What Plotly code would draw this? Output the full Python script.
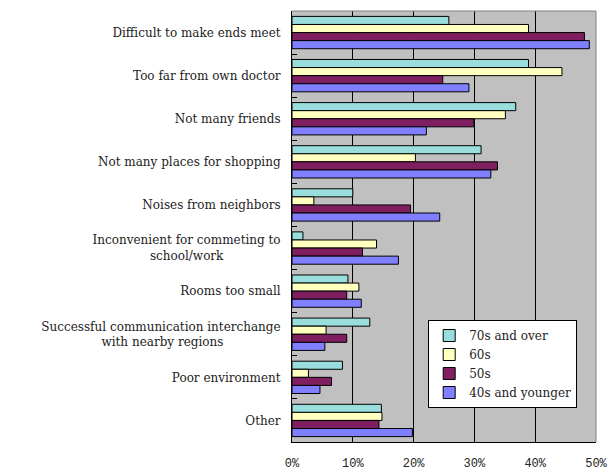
import plotly.graph_objects as go

NB = "\u00a0"
categories = [
    "Difficult to make ends meet",
    "Too far from own doctor",
    "Not many friends",
    "Not many places for shopping",
    "Noises from neighbors",
    "Inconvenient for commeting to<br>school/work" + NB * 15,
    "Rooms too small",
    "Successful communication interchange<br>with nearby regions" + NB * 15,
    "Poor environment",
    "Other",
]

series_names = ["70s and over", "60s", "50s", "40s and younger"]
s70 = [25.8, 38.9, 36.8, 31.1, 10.0, 1.8, 9.2, 12.8, 8.3, 14.7]
s60 = [38.9, 44.4, 35.1, 20.3, 3.6, 13.9, 11.0, 5.6, 2.7, 14.8]
s50 = [48.1, 24.8, 29.9, 33.8, 19.5, 11.6, 9.0, 9.0, 6.5, 14.3]
s40 = [48.9, 29.1, 22.1, 32.7, 24.3, 17.5, 11.4, 5.4, 4.6, 19.8]
series_values = [s70, s60, s50, s40]
colors = ["#99DDDD", "#FFFFC0", "#7F1F5F", "#7F7FFF"]

x_ticks = [0, 10, 20, 30, 40, 50]
x_ticklabels = ["0%", "10%", "20%", "30%", "40%", "50%"]

FONT = "DejaVu Serif"

fig = go.Figure()
for name, vals, col in zip(series_names, series_values, colors):
    fig.add_trace(go.Bar(
        y=categories, x=vals, name=name, orientation="h",
        marker=dict(color=col, line=dict(color="#000000", width=1)),
    ))

fig.update_layout(
    width=614, height=470,
    margin=dict(l=292, r=18, t=11, b=28),
    paper_bgcolor="white",
    plot_bgcolor="#C0C0C0",
    barmode="group",
    bargap=0.25,
    bargroupgap=0,
    font=dict(family=FONT, size=12, color="#222222"),
    showlegend=True,
    legend=dict(
        x=0.448, y=0.283, xanchor="left", yanchor="top",
        bgcolor="white", bordercolor="#000000", borderwidth=1,
        font=dict(family=FONT, size=12, color="#222222"),
        traceorder="normal",
        itemwidth=30,
        tracegroupgap=0,
    ),
    xaxis=dict(
        range=[0, 50], tickvals=x_ticks, ticktext=x_ticklabels,
        showgrid=True, gridcolor="#000000", gridwidth=1,
        zeroline=False,
        showline=True, linecolor="#000000", linewidth=1, mirror=False,
        ticks="outside", ticklen=10, tickcolor="rgba(0,0,0,0)",
        tickfont=dict(family="Liberation Mono", size=12, color="#222222"),
        automargin=False,
        fixedrange=True,
    ),
    yaxis=dict(
        autorange="reversed", type="category",
        showline=True, linecolor="#000000", linewidth=1,
        ticks="inside", ticklen=5, tickcolor="#000000",
        tickson="boundaries",
        ticklabelstandoff=8,
        showgrid=False,
        tickfont=dict(family=FONT, size=12, color="#222222"),
        automargin=False,
        fixedrange=True,
    ),
)

# gray top/right border of plot area
fig.add_shape(type="line", xref="paper", yref="paper", x0=0, x1=1, y0=1, y1=1,
              line=dict(color="#808080", width=1))
fig.add_shape(type="line", xref="paper", yref="paper", x0=1, x1=1, y0=0, y1=1,
              line=dict(color="#808080", width=1))

fig.write_html("out.html")
